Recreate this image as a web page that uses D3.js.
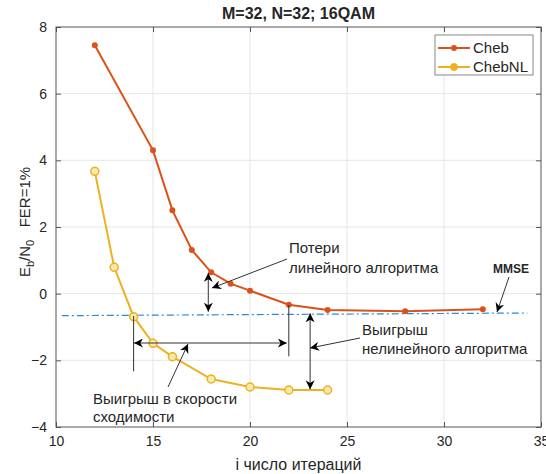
<!DOCTYPE html>
<html><head><meta charset="utf-8">
<script src="https://cdn.jsdelivr.net/npm/d3@7"></script>
<style>body{margin:0;background:#fff}svg{font-family:"Liberation Sans",Arial,sans-serif}</style>
</head><body><svg id="c" width="546" height="474"></svg>
<script>
const xTicks = [10,15,20,25,30,35];
const yTicks = [-4,-2,0,2,4,6,8];
const chebX = [12,15,16,17,18,19,20,22,24,28,32];
const chebY = [7.45,4.3,2.5,1.31,0.64,0.3,0.09,-0.33,-0.49,-0.53,-0.47];
const chebNLX = [12,13,14,15,16,18,20,22,24];
const chebNLY = [3.67,0.79,-0.69,-1.49,-1.89,-2.56,-2.8,-2.89,-2.89];
const mmseX = [10.3,34.3];
const mmseY = [-0.66,-0.58];
const seriesNames = ["Cheb","ChebNL"];

const svg = d3.select("#c");
const L=56,R=541,T=27,B=427;
const x = d3.scaleLinear().domain([10,35]).range([L,R]);
const y = d3.scaleLinear().domain([-4,8]).range([B,T]);

// grid
svg.append("g").selectAll("line").data(xTicks.slice(1,-1)).join("line")
  .attr("x1",d=>x(d)).attr("x2",d=>x(d)).attr("y1",T).attr("y2",B).attr("stroke","#e6e6e6");
svg.append("g").selectAll("line").data(yTicks.slice(1,-1)).join("line")
  .attr("y1",d=>y(d)).attr("y2",d=>y(d)).attr("x1",L).attr("x2",R).attr("stroke","#e6e6e6");

// axes
const ax = g=>g.selectAll("text").attr("font-size",14).attr("fill","#262626");
svg.append("g").attr("transform",`translate(0,${B})`)
  .call(d3.axisBottom(x).tickValues(xTicks).tickSize(-5).tickPadding(9)).call(ax)
  .call(g=>g.select(".domain").remove()).call(g=>g.selectAll("line").attr("stroke","#555"));
svg.append("g").attr("transform",`translate(0,${T})`)
  .call(d3.axisTop(x).tickValues(xTicks).tickSize(-5).tickFormat(""))
  .call(g=>g.select(".domain").remove()).call(g=>g.selectAll("line").attr("stroke","#555"));
svg.append("g").attr("transform",`translate(${L},0)`)
  .call(d3.axisLeft(y).tickValues(yTicks).tickSize(-5).tickPadding(9)).call(ax)
  .call(g=>g.select(".domain").remove()).call(g=>g.selectAll("line").attr("stroke","#555"));
svg.append("g").attr("transform",`translate(${R},0)`)
  .call(d3.axisRight(y).tickValues(yTicks).tickSize(-5).tickFormat(""))
  .call(g=>g.select(".domain").remove()).call(g=>g.selectAll("line").attr("stroke","#555"));
svg.append("rect").attr("x",L).attr("y",T).attr("width",R-L).attr("height",B-T)
  .attr("fill","none").attr("stroke","#555").attr("stroke-width",1);

// MMSE
const line = d3.line().x(d=>x(d[0])).y(d=>y(d[1]));
svg.append("path").datum(mmseX.map((v,i)=>[v,mmseY[i]])).attr("d",line)
  .attr("fill","none").attr("stroke","#2a8ad4").attr("stroke-width",1.2).attr("stroke-dasharray","7,3,2,3");

// series
const c1="#D95319", c2="#EDB120";
const d1 = chebX.map((v,i)=>[v,chebY[i]]);
const d2 = chebNLX.map((v,i)=>[v,chebNLY[i]]);
svg.append("path").datum(d1).attr("d",line).attr("fill","none").attr("stroke",c1).attr("stroke-width",2);
svg.append("g").selectAll("circle").data(d1).join("circle").attr("cx",d=>x(d[0])).attr("cy",d=>y(d[1]))
  .attr("r",3).attr("fill",c1);
svg.append("path").datum(d2).attr("d",line).attr("fill","none").attr("stroke",c2).attr("stroke-width",2);
svg.append("g").selectAll("circle").data(d2).join("circle").attr("cx",d=>x(d[0])).attr("cy",d=>y(d[1]))
  .attr("r",4).attr("fill","#fbe7b0").attr("stroke",c2).attr("stroke-width",1.5);

// annotations
const defs = svg.append("defs");
defs.append("marker").attr("id","ah").attr("viewBox","0 0 10 10").attr("refX",10).attr("refY",5)
  .attr("markerWidth",9).attr("markerHeight",9).attr("orient","auto-start-reverse").attr("markerUnits","userSpaceOnUse")
  .append("path").attr("d","M0,0 L10,5 L0,10 L3,5 Z").attr("fill","#000");
function arrow(x1,y1,x2,y2,both,col){
  const p=svg.append("line").attr("x1",x1).attr("y1",y1).attr("x2",x2).attr("y2",y2)
   .attr("stroke",col||"#333").attr("stroke-width",1).attr("marker-end","url(#ah)");
  if(both) p.attr("marker-start","url(#ah)");
}
function plain(x1,y1,x2,y2){svg.append("line").attr("x1",x1).attr("y1",y1).attr("x2",x2).attr("y2",y2).attr("stroke","#333").attr("stroke-width",1);}
function txt(tx,ty,s,opts){
  const t=svg.append("text").attr("x",tx).attr("y",ty).attr("font-size",(opts&&opts.fs)||15).attr("fill","#262626").text(s);
  if(opts&&opts.bold) t.attr("font-weight","bold");
  if(opts&&opts.anchor) t.attr("text-anchor",opts.anchor);
  return t;
}
// Потери
txt(289,253,"Потери");
txt(289,273,"линейного алгоритма");
arrow(287,259,212,288);
arrow(x(17.85),y(0.62),x(17.85),y(-0.54),true);
// horizontal
plain(x(14),y(-0.67),x(14),y(-2.33));
plain(x(22),y(-0.34),x(22),y(-1.88));
arrow(x(14.02),y(-1.48),x(21.9),y(-1.48),true);
txt(93,404,"Выигрыш в скорости");
txt(93,422,"сходимости");
arrow(168,387,188,344);
// nonlinear gain
arrow(x(23.1),y(-0.59),x(23.1),y(-2.87),true);
txt(362,335,"Выигрыш");
txt(362,354,"нелинейного алгоритма");
arrow(360,338,310,348);
// MMSE
txt(511,273,"MMSE",{bold:true,fs:12,anchor:"middle"});
arrow(509,277,497,312);

// legend
svg.append("rect").attr("x",435).attr("y",35).attr("width",98).attr("height",40).attr("fill","#fff").attr("stroke","#888");
[[c1,48,"Cheb"],[c2,67,"ChebNL"]].forEach(([c,ly,n],i)=>{
  svg.append("line").attr("x1",438).attr("x2",470).attr("y1",ly).attr("y2",ly).attr("stroke",c).attr("stroke-width",2);
  if(i===0) svg.append("circle").attr("cx",454).attr("cy",ly).attr("r",3).attr("fill",c);
  else svg.append("circle").attr("cx",454).attr("cy",ly).attr("r",3.5).attr("fill",c).attr("stroke",c);
  txt(473,ly+5,seriesNames[i]);
});

// title & labels
txt((L+R)/2,19,"M=32, N=32; 16QAM",{bold:true,fs:16,anchor:"middle"});
txt((L+R)/2,470,"i число итераций",{fs:16,anchor:"middle"});
const yl = svg.append("text").attr("transform","translate(30,222) rotate(-90)").attr("text-anchor","middle")
  .attr("font-size",15).attr("fill","#262626");
yl.append("tspan").text("E");
yl.append("tspan").attr("font-size",11).attr("dy",4).text("b");
yl.append("tspan").attr("dy",-4).text("/N");
yl.append("tspan").attr("font-size",11).attr("dy",4).text("0");
yl.append("tspan").attr("dy",-4).text("\u00a0\u00a0\u00a0FER=1%");
</script></body></html>
